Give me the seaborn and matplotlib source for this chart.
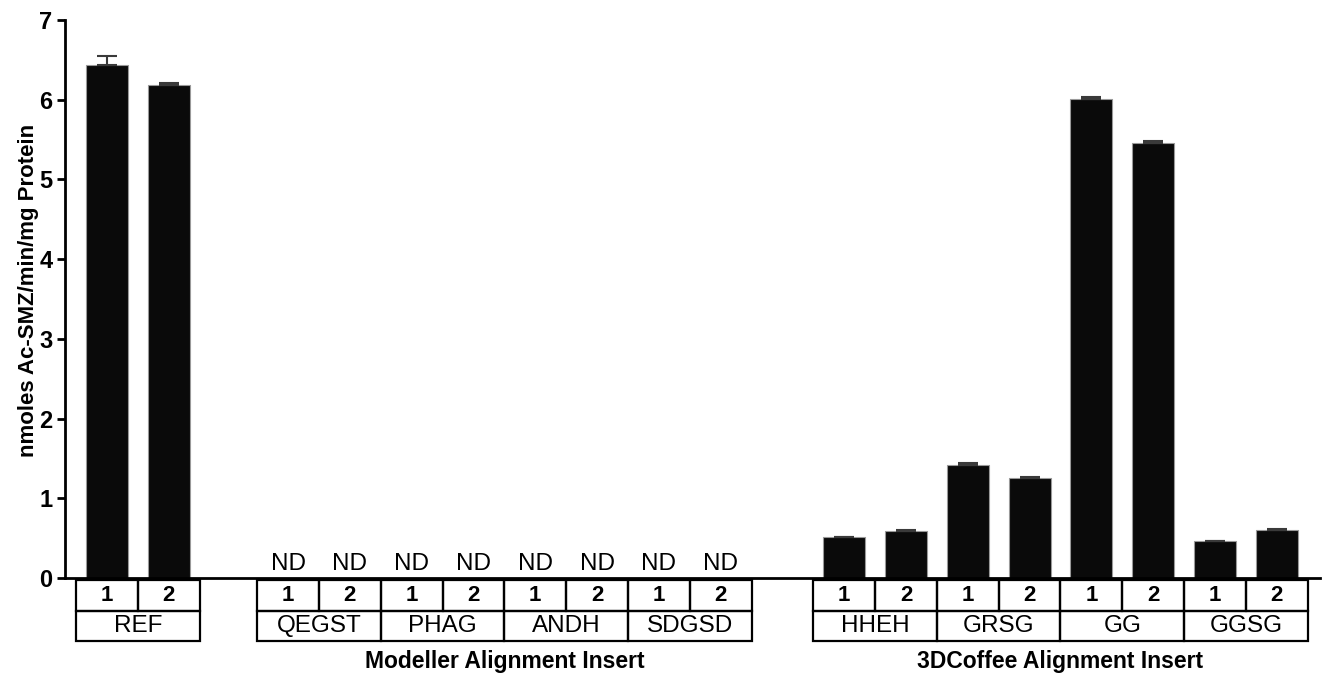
import numpy as np
import pandas as pd
import matplotlib.pyplot as plt
import seaborn as sns
from matplotlib.patches import Rectangle
from matplotlib.transforms import blended_transform_factory

sns.set_theme(style="white")
plt.rcParams["font.family"] = ["Liberation Sans", "DejaVu Sans"]
plt.rcParams["text.color"] = "black"
plt.rcParams["ytick.color"] = "black"
plt.rcParams["axes.labelcolor"] = "black"

# Data
sections = ["", "Modeller Alignment Insert", "3DCoffee Alignment Insert"]
section_groups = [["REF"],
                  ["QEGST", "PHAG", "ANDH", "SDGSD"],
                  ["HHEH", "GRSG", "GG", "GGSG"]]
replicates = ["1", "2"]
values = [6.44, 6.19,
          np.nan, np.nan, np.nan, np.nan, np.nan, np.nan, np.nan, np.nan,
          0.51, 0.59, 1.42, 1.25, 6.01, 5.46, 0.46, 0.60]
errors = [0.11, 0.02,
          0, 0, 0, 0, 0, 0, 0, 0,
          0.01, 0.01, 0.02, 0.02, 0.02, 0.02, 0.01, 0.01]
yticks = [0, 1, 2, 3, 4, 5, 6, 7]

# layout: x of the first bar in each section (one unit per bar)
section_starts = [0.0, 2.93, 11.93]

rows = []
for sec, start, groups in zip(sections, section_starts, section_groups):
    k = 0
    for g in groups:
        for r in replicates:
            rows.append({"section": sec, "group": g, "rep": r, "pos": start + k})
            k += 1
df = pd.DataFrame(rows)
df["value"] = values
df["err"] = errors

fig = plt.figure(figsize=(13.24, 6.77), dpi=100)
ax = fig.add_axes([65 / 1324, 1 - 578 / 677, (1320 - 65) / 1324, (578 - 20) / 677])

measured = df.dropna(subset=["value"])
sns.barplot(data=measured, x="pos", y="value", native_scale=True, color="#0a0a0a",
            width=0.68, edgecolor="#999999", linewidth=0.8, errorbar=None,
            saturation=1, ax=ax)
ax.errorbar(measured["pos"], measured["value"],
            yerr=[np.zeros(len(measured)), measured["err"]],
            fmt="none", ecolor="#3a3a3a", elinewidth=1.5, capsize=7.5, capthick=1.5,
            zorder=1)

for _, r in df[df["value"].isna()].iterrows():
    ax.annotate("ND", (r["pos"], 0), xytext=(0, 2), textcoords="offset points",
                ha="center", va="bottom", fontsize=17.5)

ax.set_xlim(-0.68, 19.63)
ax.set_ylim(0, 7)
ax.set_yticks(yticks)
ax.set_yticklabels([str(t) for t in yticks], fontsize=17, fontweight="bold")
ax.set_xticks([])
ax.set_xlabel("")
ax.set_ylabel("nmoles Ac-SMZ/min/mg Protein", fontsize=16, fontweight="bold")
ax.yaxis.set_label_coords(-0.0207, 0.516)
for s in ["top", "right"]:
    ax.spines[s].set_visible(False)
for s in ["left", "bottom"]:
    ax.spines[s].set_color("black")
    ax.spines[s].set_linewidth(2)
ax.tick_params(axis="y", direction="out", length=6, width=2, color="black", left=True, pad=3)

# table of labels under the axis
tr = blended_transform_factory(ax.transData, ax.transAxes)
y_top, y_mid, y_bot = -0.003, -0.059, -0.113
lw = 1.6
for _, r in df.iterrows():
    ax.add_patch(Rectangle((r["pos"] - 0.5, y_mid), 1, y_top - y_mid, transform=tr,
                           fill=False, edgecolor="black", linewidth=lw, clip_on=False))
    ax.text(r["pos"], (y_top + y_mid) / 2, r["rep"], transform=tr, ha="center",
            va="center", fontsize=16, fontweight="bold")
for g, sub in df.groupby("group", sort=False):
    x0, x1 = sub["pos"].min() - 0.5, sub["pos"].max() + 0.5
    ax.add_patch(Rectangle((x0, y_bot), x1 - x0, y_mid - y_bot, transform=tr,
                           fill=False, edgecolor="black", linewidth=lw, clip_on=False))
    ax.text((x0 + x1) / 2, (y_mid + y_bot) / 2, g, transform=tr, ha="center",
            va="center", fontsize=17.5)
for sec, sub in df.groupby("section", sort=False):
    if sec:
        ax.text((sub["pos"].min() + sub["pos"].max()) / 2, -0.149, sec, transform=tr,
                ha="center", va="center", fontsize=16.5, fontweight="bold")

fig.savefig("out.png", dpi=100)
